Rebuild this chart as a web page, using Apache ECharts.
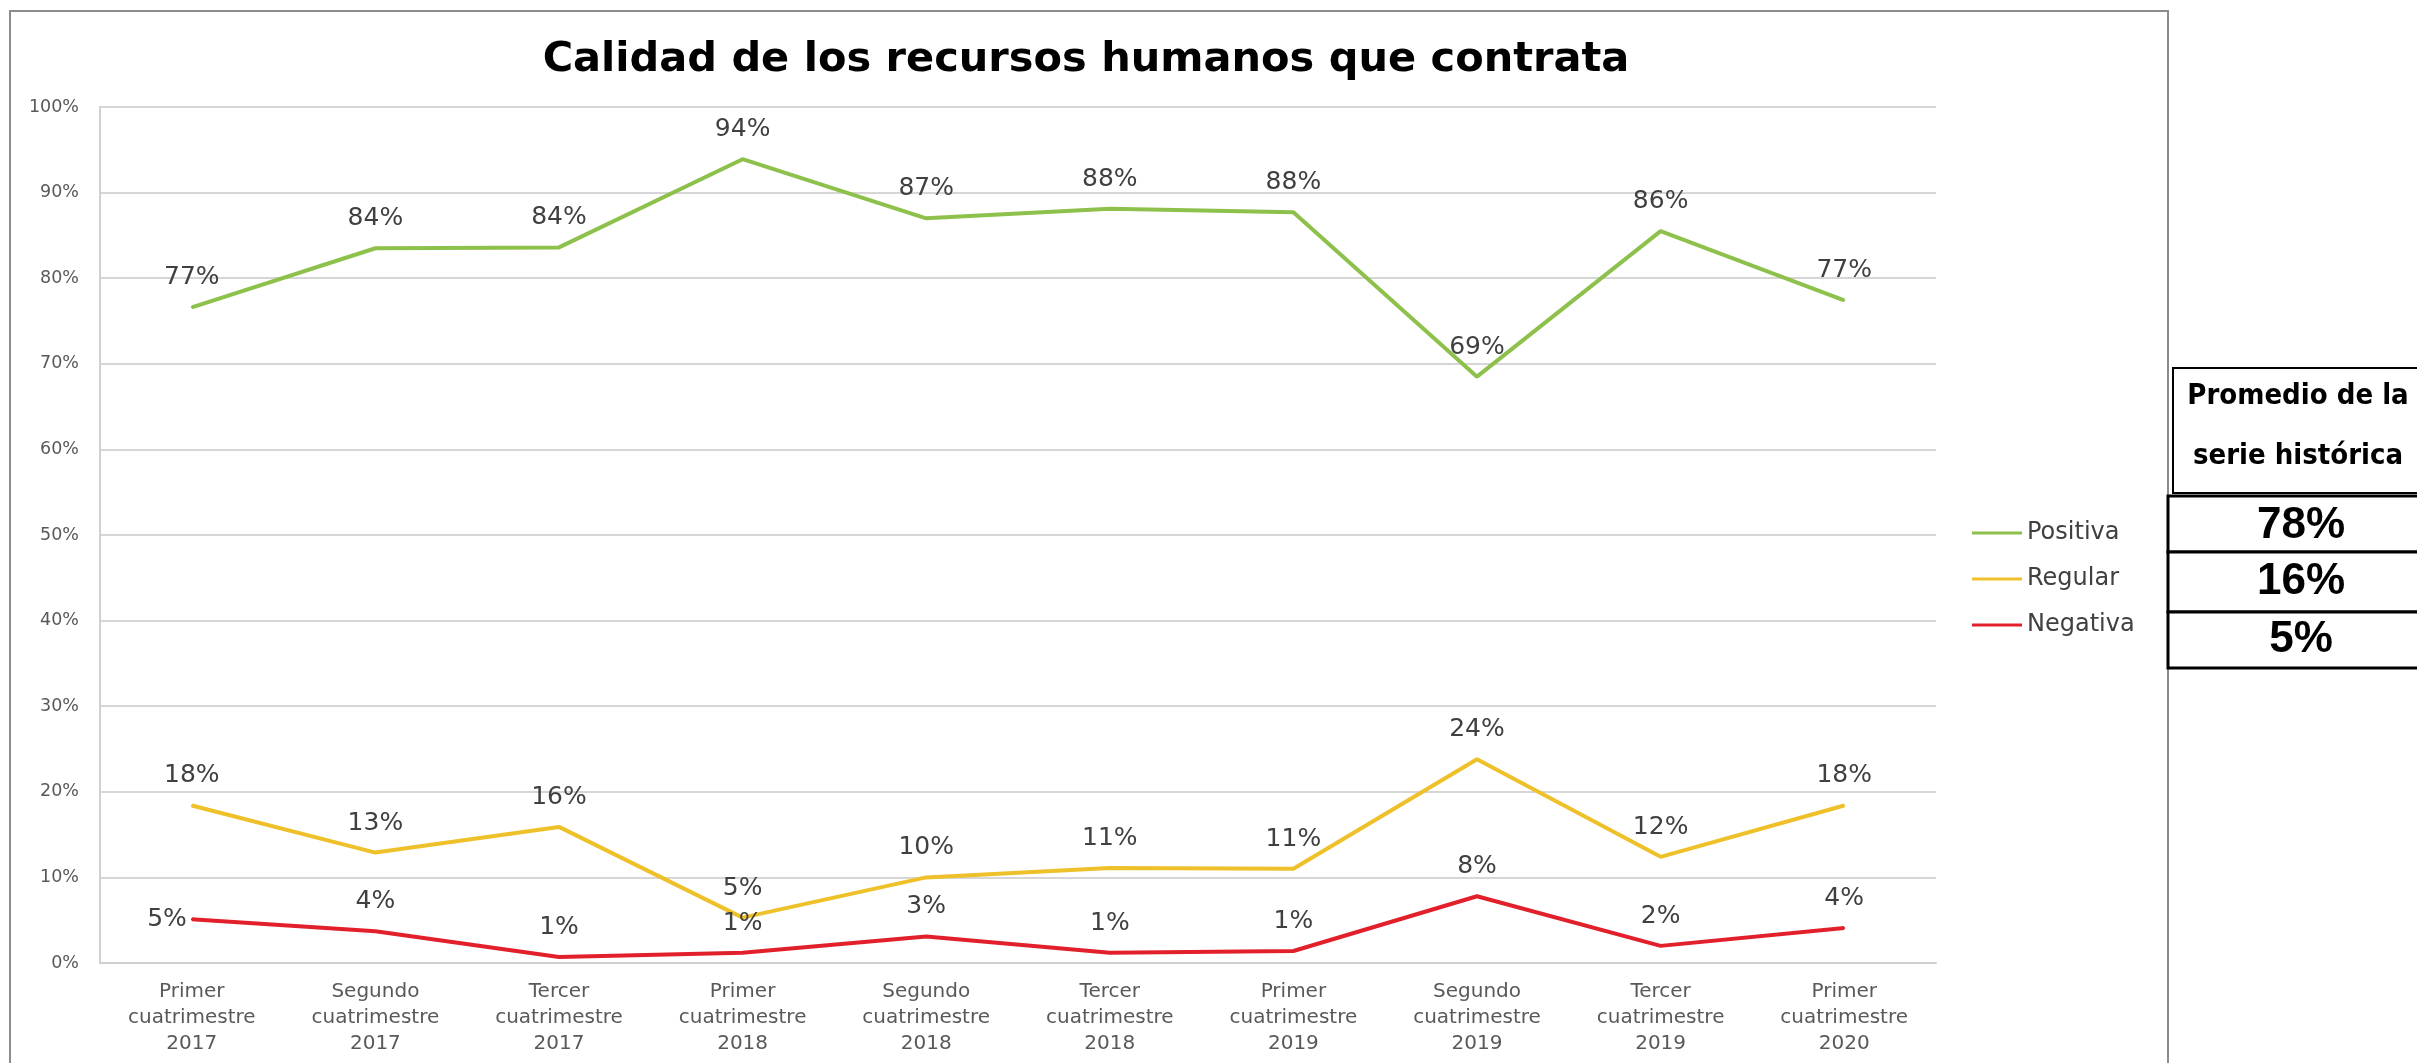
<!DOCTYPE html>
<html><head><meta charset="utf-8">
<script src="https://cdn.jsdelivr.net/npm/echarts@6/dist/echarts.min.js"></script>
<style>html,body{margin:0;padding:0;background:#fff}#c{width:2417px;height:1063px}</style>
</head><body><div id="c"></div>
<script>
const titleText = 'Calidad de los recursos humanos que contrata';
const categories = [
  'Primer\ncuatrimestre\n2017', 'Segundo\ncuatrimestre\n2017', 'Tercer\ncuatrimestre\n2017',
  'Primer\ncuatrimestre\n2018', 'Segundo\ncuatrimestre\n2018', 'Tercer\ncuatrimestre\n2018',
  'Primer\ncuatrimestre\n2019', 'Segundo\ncuatrimestre\n2019', 'Tercer\ncuatrimestre\n2019',
  'Primer\ncuatrimestre\n2020'
];
const seriesNames = ['Positiva', 'Regular', 'Negativa'];
const positiva = [76.6, 83.5, 83.6, 93.9, 87.0, 88.1, 87.7, 68.5, 85.5, 77.4];
const regular  = [18.4, 12.9, 15.9, 5.3, 10.0, 11.1, 11.0, 23.8, 12.4, 18.4];
const negativa = [5.1, 3.7, 0.7, 1.2, 3.1, 1.2, 1.4, 7.8, 2.0, 4.1];
const tableHeader = ['Promedio de la', 'serie histórica'];
const tableValues = ['78%', '16%', '5%'];

const colors = ['#8ec04c', '#eec02a', '#e2202c'];
const F = "'DejaVu Sans', sans-serif";

function labelCfg(pos) {
  return {
    show: true, position: pos || 'top', distance: pos === 'left' ? 4 : 16,
    fontFamily: F, fontSize: 25, lineHeight: 25, color: '#404040',
    formatter: p => Math.round(p.value) + '%'
  };
}
function mkData(arr, specialLeftIdx) {
  return arr.map((v, i) => (i === specialLeftIdx ? { value: v, label: labelCfg('left') } : v));
}
function mkSeries(idx, arr, leftIdx) {
  return {
    name: seriesNames[idx], type: 'line', data: mkData(arr, leftIdx),
    symbol: 'circle', symbolSize: 2, showSymbol: true,
    lineStyle: { color: colors[idx], width: 4 }, itemStyle: { color: colors[idx] },
    label: labelCfg('top'), z: 3
  };
}

const chart = echarts.init(document.getElementById('c'), null, { renderer: 'canvas' });
chart.setOption({
  animation: false,
  backgroundColor: '#ffffff',
  grid: { left: 100, right: 481, top: 107, bottom: 100, containLabel: false },
  legend: {
    orient: 'vertical', left: 1972, top: 521, padding: 0, itemGap: 22,
    icon: 'rect', itemWidth: 50, itemHeight: 3,
    textStyle: { fontFamily: F, fontSize: 24, lineHeight: 24, color: '#404040' },
    data: seriesNames
  },
  xAxis: {
    type: 'category', data: categories, boundaryGap: true,
    axisLine: { show: true, lineStyle: { color: '#d0d0d0', width: 2 } },
    axisTick: { show: false },
    axisLabel: { fontFamily: F, fontSize: 20, lineHeight: 26, color: '#595959', margin: 16, interval: 0 }
  },
  yAxis: {
    type: 'value', min: 0, max: 100, interval: 10,
    axisLine: { show: true, lineStyle: { color: '#d0d0d0', width: 2 } },
    axisTick: { show: false },
    splitLine: { show: true, lineStyle: { color: '#d6d6d6', width: 2 } },
    axisLabel: { fontFamily: F, fontSize: 17.5, color: '#595959', margin: 21, formatter: '{value}%' }
  },
  series: [
    mkSeries(0, positiva, -1),
    mkSeries(1, regular, -1),
    mkSeries(2, negativa, 0)
  ],
  graphic: [
    { type: 'rect', z: -10, shape: { x: 10, y: 11, width: 2158, height: 1100 },
      style: { fill: 'none', stroke: '#8c8c8c', lineWidth: 2 } },
    { type: 'text', x: 1086, y: 60,
      style: { text: titleText, align: 'center', verticalAlign: 'middle',
        font: "bold 41.5px 'DejaVu Sans', sans-serif", fill: '#000000' } },
    { type: 'rect', shape: { x: 2173, y: 368, width: 270, height: 125 },
      style: { fill: '#ffffff', stroke: '#000000', lineWidth: 2 } },
    { type: 'rect', shape: { x: 2168, y: 496, width: 275, height: 56 },
      style: { fill: '#ffffff', stroke: '#000000', lineWidth: 3 } },
    { type: 'rect', shape: { x: 2168, y: 552, width: 275, height: 60 },
      style: { fill: '#ffffff', stroke: '#000000', lineWidth: 3 } },
    { type: 'rect', shape: { x: 2168, y: 612, width: 275, height: 56 },
      style: { fill: '#ffffff', stroke: '#000000', lineWidth: 3 } },
    { type: 'text', x: 2298, y: 396,
      style: { text: tableHeader[0], align: 'center', verticalAlign: 'middle',
        font: "bold 29px 'Liberation Sans Narrow', 'DejaVu Sans Condensed', sans-serif", fill: '#000' } },
    { type: 'text', x: 2298, y: 456,
      style: { text: tableHeader[1], align: 'center', verticalAlign: 'middle',
        font: "bold 29px 'Liberation Sans Narrow', 'DejaVu Sans Condensed', sans-serif", fill: '#000' } },
    { type: 'text', x: 2301, y: 526,
      style: { text: tableValues[0], align: 'center', verticalAlign: 'middle',
        font: "bold 44px 'Liberation Sans', sans-serif", fill: '#000' } },
    { type: 'text', x: 2301, y: 582,
      style: { text: tableValues[1], align: 'center', verticalAlign: 'middle',
        font: "bold 44px 'Liberation Sans', sans-serif", fill: '#000' } },
    { type: 'text', x: 2301, y: 640,
      style: { text: tableValues[2], align: 'center', verticalAlign: 'middle',
        font: "bold 44px 'Liberation Sans', sans-serif", fill: '#000' } }
  ]
});
</script></body></html>
